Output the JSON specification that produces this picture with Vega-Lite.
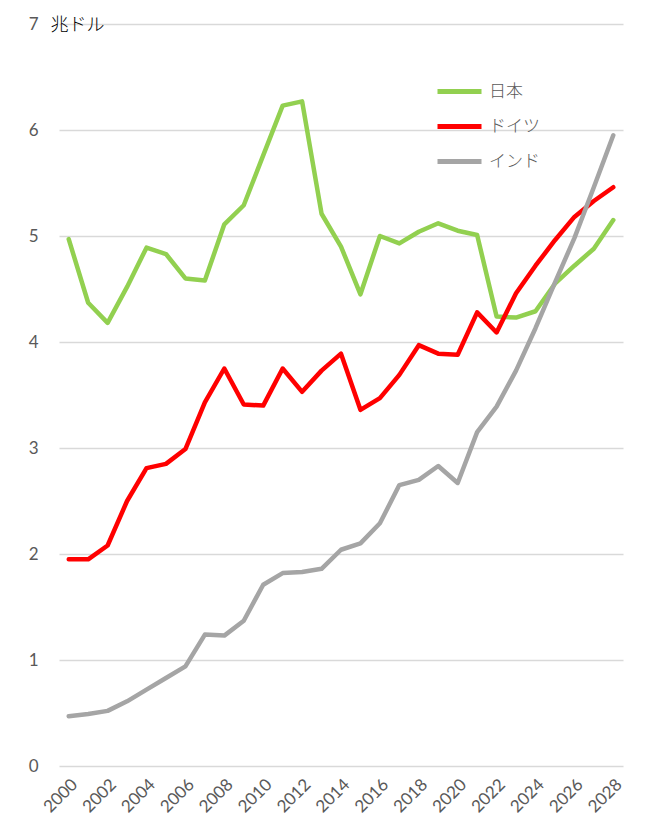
{
  "$schema": "https://vega.github.io/schema/vega-lite/v6.json",
  "width": 564, "height": 742,
  "autosize": {"type": "none"},
  "padding": {"left": 59, "top": 24, "right": 25, "bottom": 69},
  "background": "white",
  "config": {
    "view": {"stroke": null},
    "axis": {"labelFont": "Lato", "labelColor": "#595959", "labelFontSize": 17, "ticks": false, "domain": false, "gridColor": "#d9d9d9", "gridWidth": 1.5},
    "legend": {"labelFont": "Noto Sans CJK JP", "labelColor": "#595959", "labelFontSize": 17, "labelFontWeight": 300}
  },
  "data": {
    "values": [
      {"year": 2000, "country": "日本", "value": 4.97}, {"year": 2001, "country": "日本", "value": 4.37},
      {"year": 2002, "country": "日本", "value": 4.18}, {"year": 2003, "country": "日本", "value": 4.52},
      {"year": 2004, "country": "日本", "value": 4.89}, {"year": 2005, "country": "日本", "value": 4.83},
      {"year": 2006, "country": "日本", "value": 4.60}, {"year": 2007, "country": "日本", "value": 4.58},
      {"year": 2008, "country": "日本", "value": 5.11}, {"year": 2009, "country": "日本", "value": 5.29},
      {"year": 2010, "country": "日本", "value": 5.76}, {"year": 2011, "country": "日本", "value": 6.23},
      {"year": 2012, "country": "日本", "value": 6.27}, {"year": 2013, "country": "日本", "value": 5.21},
      {"year": 2014, "country": "日本", "value": 4.90}, {"year": 2015, "country": "日本", "value": 4.45},
      {"year": 2016, "country": "日本", "value": 5.00}, {"year": 2017, "country": "日本", "value": 4.93},
      {"year": 2018, "country": "日本", "value": 5.04}, {"year": 2019, "country": "日本", "value": 5.12},
      {"year": 2020, "country": "日本", "value": 5.05}, {"year": 2021, "country": "日本", "value": 5.01},
      {"year": 2022, "country": "日本", "value": 4.24}, {"year": 2023, "country": "日本", "value": 4.23},
      {"year": 2024, "country": "日本", "value": 4.29}, {"year": 2025, "country": "日本", "value": 4.55},
      {"year": 2026, "country": "日本", "value": 4.72}, {"year": 2027, "country": "日本", "value": 4.88},
      {"year": 2028, "country": "日本", "value": 5.15},
      {"year": 2000, "country": "ドイツ", "value": 1.95}, {"year": 2001, "country": "ドイツ", "value": 1.95},
      {"year": 2002, "country": "ドイツ", "value": 2.08}, {"year": 2003, "country": "ドイツ", "value": 2.50},
      {"year": 2004, "country": "ドイツ", "value": 2.81}, {"year": 2005, "country": "ドイツ", "value": 2.85},
      {"year": 2006, "country": "ドイツ", "value": 2.99}, {"year": 2007, "country": "ドイツ", "value": 3.43},
      {"year": 2008, "country": "ドイツ", "value": 3.75}, {"year": 2009, "country": "ドイツ", "value": 3.41},
      {"year": 2010, "country": "ドイツ", "value": 3.40}, {"year": 2011, "country": "ドイツ", "value": 3.75},
      {"year": 2012, "country": "ドイツ", "value": 3.53}, {"year": 2013, "country": "ドイツ", "value": 3.73},
      {"year": 2014, "country": "ドイツ", "value": 3.89}, {"year": 2015, "country": "ドイツ", "value": 3.36},
      {"year": 2016, "country": "ドイツ", "value": 3.47}, {"year": 2017, "country": "ドイツ", "value": 3.69},
      {"year": 2018, "country": "ドイツ", "value": 3.97}, {"year": 2019, "country": "ドイツ", "value": 3.89},
      {"year": 2020, "country": "ドイツ", "value": 3.88}, {"year": 2021, "country": "ドイツ", "value": 4.28},
      {"year": 2022, "country": "ドイツ", "value": 4.09}, {"year": 2023, "country": "ドイツ", "value": 4.46},
      {"year": 2024, "country": "ドイツ", "value": 4.72}, {"year": 2025, "country": "ドイツ", "value": 4.96},
      {"year": 2026, "country": "ドイツ", "value": 5.18}, {"year": 2027, "country": "ドイツ", "value": 5.33},
      {"year": 2028, "country": "ドイツ", "value": 5.46},
      {"year": 2000, "country": "インド", "value": 0.47}, {"year": 2001, "country": "インド", "value": 0.49},
      {"year": 2002, "country": "インド", "value": 0.52}, {"year": 2003, "country": "インド", "value": 0.61},
      {"year": 2004, "country": "インド", "value": 0.72}, {"year": 2005, "country": "インド", "value": 0.83},
      {"year": 2006, "country": "インド", "value": 0.94}, {"year": 2007, "country": "インド", "value": 1.24},
      {"year": 2008, "country": "インド", "value": 1.23}, {"year": 2009, "country": "インド", "value": 1.37},
      {"year": 2010, "country": "インド", "value": 1.71}, {"year": 2011, "country": "インド", "value": 1.82},
      {"year": 2012, "country": "インド", "value": 1.83}, {"year": 2013, "country": "インド", "value": 1.86},
      {"year": 2014, "country": "インド", "value": 2.04}, {"year": 2015, "country": "インド", "value": 2.10},
      {"year": 2016, "country": "インド", "value": 2.29}, {"year": 2017, "country": "インド", "value": 2.65},
      {"year": 2018, "country": "インド", "value": 2.70}, {"year": 2019, "country": "インド", "value": 2.83},
      {"year": 2020, "country": "インド", "value": 2.67}, {"year": 2021, "country": "インド", "value": 3.15},
      {"year": 2022, "country": "インド", "value": 3.39}, {"year": 2023, "country": "インド", "value": 3.73},
      {"year": 2024, "country": "インド", "value": 4.13}, {"year": 2025, "country": "インド", "value": 4.56},
      {"year": 2026, "country": "インド", "value": 4.98}, {"year": 2027, "country": "インド", "value": 5.46},
      {"year": 2028, "country": "インド", "value": 5.95}
    ]
  },
  "mark": {"type": "line", "strokeWidth": 4.5, "strokeJoin": "round", "strokeCap": "round"},
  "encoding": {
    "x": {
      "field": "year", "type": "ordinal",
      "scale": {"type": "point", "padding": 0.5},
      "axis": {
        "title": null, "grid": false, "labelAngle": -45, "labelPadding": 10,
        "values": [2000, 2002, 2004, 2006, 2008, 2010, 2012, 2014, 2016, 2018, 2020, 2022, 2024, 2026, 2028]
      }
    },
    "y": {
      "field": "value", "type": "quantitative",
      "scale": {"domain": [0, 7], "nice": false},
      "axis": {
        "values": [0, 1, 2, 3, 4, 5, 6, 7], "labelPadding": 21,
        "title": "兆ドル", "titleAngle": 0, "titleAlign": "left", "titleBaseline": "middle",
        "titleX": -9, "titleY": 1, "titleFont": "Noto Sans CJK JP", "titleFontSize": 18,
        "titleFontWeight": 300, "titleColor": "#000000"
      }
    },
    "color": {
      "field": "country", "type": "nominal",
      "scale": {"domain": ["日本", "ドイツ", "インド"], "range": ["#92d050", "#ff0000", "#a5a5a5"]},
      "sort": ["日本", "ドイツ", "インド"],
      "legend": {
        "title": null, "orient": "none", "legendX": 376, "legendY": 43,
        "symbolType": "stroke", "symbolSize": 1936, "symbolStrokeWidth": 5,
        "rowPadding": -9, "labelOffset": 5
      }
    }
  }
}
